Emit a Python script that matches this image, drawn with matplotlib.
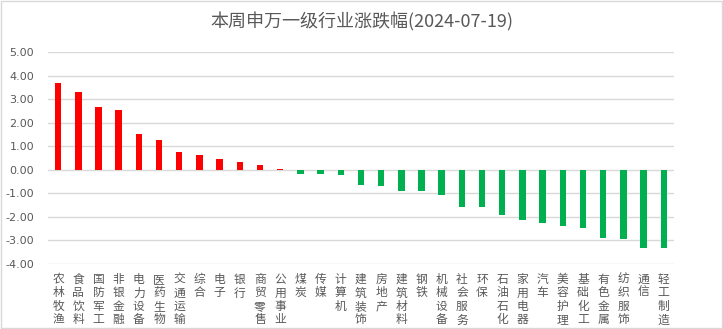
import matplotlib.pyplot as plt
import numpy as np
from matplotlib.patches import Rectangle

plt.rcParams['font.family'] = ['Noto Sans CJK SC', 'DejaVu Sans']

# Shenwan level-1 industries, weekly change (%)
industries = ['农林牧渔', '食品饮料', '国防军工', '非银金融', '电力设备', '医药生物',
              '交通运输', '综合', '电子', '银行', '商贸零售', '公用事业', '煤炭', '传媒',
              '计算机', '建筑装饰', '房地产', '建筑材料', '钢铁', '机械设备', '社会服务',
              '环保', '石油石化', '家用电器', '汽车', '美容护理', '基础化工', '有色金属',
              '纺织服饰', '通信', '轻工制造']
changes = [3.69, 3.31, 2.67, 2.55, 1.53, 1.27, 0.76, 0.64, 0.47, 0.34, 0.21, 0.04,
           -0.16, -0.20, -0.24, -0.66, -0.71, -0.92, -0.92, -1.09, -1.56, -1.60,
           -1.94, -2.15, -2.28, -2.40, -2.49, -2.91, -2.96, -3.30, -3.34]
yticks = np.arange(-4, 6, 1)

fig = plt.figure(figsize=(7.23, 3.29), dpi=100)
ax = fig.add_axes([0.0664, 0.1976, 0.8656, 0.6444])

x = np.arange(len(industries))
vals = np.array(changes)
colors = np.where(vals >= 0, '#FF0000', '#00B050')
ax.bar(x, vals, width=0.32, color=colors, zorder=3)

ax.set_xlim(-0.5, len(industries) - 0.5)
ax.set_ylim(-4, 5)
ax.set_yticks(yticks)
ax.set_yticklabels(['%.2f' % v for v in yticks], fontsize=8,
                   color='#595959', family=['DejaVu Sans'])
ax.yaxis.grid(True, color='#d9d9d9', linewidth=1, zorder=0)
ax.tick_params(axis='y', length=0, pad=10)
ax.set_xticks([])
for s in ax.spines.values():
    s.set_visible(False)

# vertical stacked category labels below the plot
for i, name in enumerate(industries):
    ax.text(i, -4.38, '\n'.join(name), ha='center', va='top', fontsize=8.5,
            color='#595959', linespacing=1.05)

fig.text(0.5, 0.933, '本周申万一级行业涨跌幅(2024-07-19)', ha='center', va='center',
         fontsize=13, color='#595959')

fig.patches.append(Rectangle((0.001, 0.002), 0.997, 0.995, transform=fig.transFigure,
                             fill=False, edgecolor='#d9d9d9', linewidth=1))

fig.savefig('out.png', dpi=100)
